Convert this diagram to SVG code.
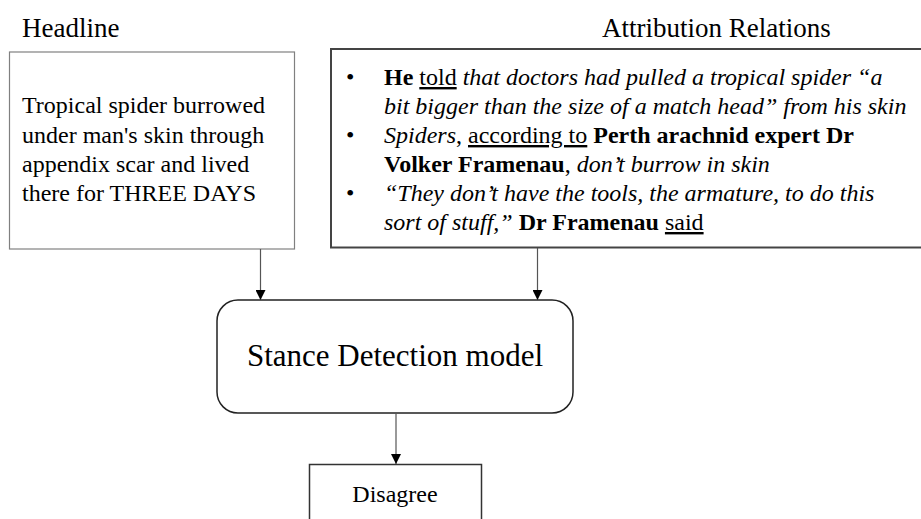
<svg xmlns="http://www.w3.org/2000/svg" width="921" height="519" viewBox="0 0 921 519">
  <style>
    text { font-family: "Liberation Serif", "Times New Roman", serif; fill: #000; }
    .title { font-size: 27px; }
    .body { font-size: 24px; }
    .big { font-size: 31px; }
    .b { font-weight: bold; }
    .i { font-style: italic; }
    .u { text-decoration: underline; }
    .conn { stroke: #555; stroke-width: 1.2; fill: none; marker-end: url(#arrow); }
  </style>
  <defs>
    <marker id="arrow" viewBox="0 0 10 10" refX="10" refY="5" markerWidth="10" markerHeight="10" markerUnits="userSpaceOnUse" orient="auto">
      <path d="M0,0 L10,5 L0,10 Z" fill="#000"/>
    </marker>
  </defs>
  <rect width="921" height="519" fill="#fff"/>

  <!-- section titles -->
  <text class="title" x="22" y="37">Headline</text>
  <text class="title" x="602" y="37">Attribution Relations</text>

  <!-- headline box -->
  <g id="headline">
    <rect x="9.5" y="52" width="285" height="197" fill="#fff" stroke="#808080" stroke-width="1.2"/>
    <text class="body" x="22" y="113">Tropical spider burrowed</text>
    <text class="body" x="22" y="142.5">under man's skin through</text>
    <text class="body" x="22" y="172">appendix scar and lived</text>
    <text class="body" x="22" y="201">there for THREE DAYS</text>
  </g>

  <!-- attribution relations box -->
  <g id="attribution">
    <rect x="331" y="49" width="600" height="198.5" fill="#fff" stroke="#444" stroke-width="2"/>
    <text class="body" x="346" y="85">•</text>
    <text class="body" x="384" y="85"><tspan class="b">He</tspan> <tspan class="u">told</tspan> <tspan class="i">that doctors had pulled a tropical spider “a</tspan></text>
    <text class="body i" x="384" y="114">bit bigger than the size of a match head” from his skin</text>
    <text class="body" x="346" y="143">•</text>
    <text class="body" x="384" y="143"><tspan class="i">Spiders</tspan>, <tspan class="u">according to</tspan> <tspan class="b">Perth arachnid expert Dr</tspan></text>
    <text class="body" x="384" y="172"><tspan class="b">Volker Framenau</tspan>, <tspan class="i">don’t burrow in skin</tspan></text>
    <text class="body" x="346" y="201">•</text>
    <text class="body i" x="384" y="201">“They don’t have the tools, the armature, to do this</text>
    <text class="body" x="384" y="230"><tspan class="i">sort of stuff,”</tspan> <tspan class="b">Dr Framenau</tspan> <tspan class="u">said</tspan></text>
  </g>

  <!-- model box -->
  <g id="model">
    <rect x="217" y="300" width="356" height="113" rx="21" ry="21" fill="#fff" stroke="#222" stroke-width="1.5"/>
    <text class="big" x="395" y="366" text-anchor="middle">Stance Detection model</text>
  </g>

  <!-- output box -->
  <g id="output">
    <rect x="309.5" y="464.5" width="172" height="70" fill="#fff" stroke="#333" stroke-width="1.5"/>
    <text class="body" x="395" y="502" text-anchor="middle">Disagree</text>
  </g>

  <!-- connectors -->
  <g id="connectors">
    <line class="conn" x1="260.5" y1="249" x2="260.5" y2="300"/>
    <line class="conn" x1="537.5" y1="248" x2="537.5" y2="300"/>
    <line class="conn" x1="396" y1="413" x2="396" y2="464"/>
  </g>
</svg>
